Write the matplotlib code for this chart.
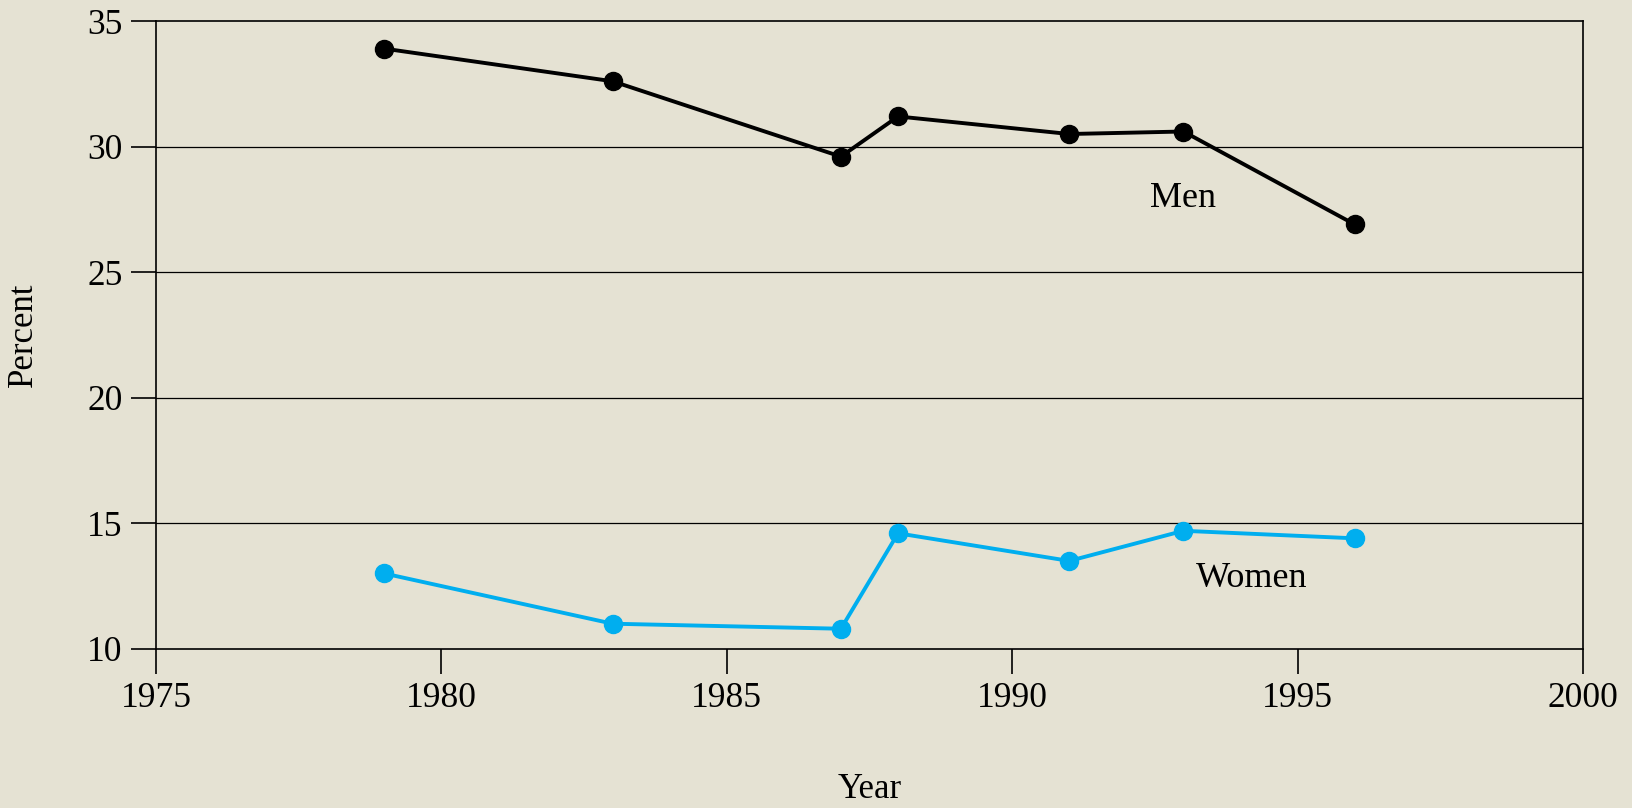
import matplotlib.pyplot as plt

plt.rcParams['font.family'] = ['Liberation Serif', 'DejaVu Serif']

years_men = [1979, 1983, 1987, 1988, 1991, 1993, 1996]
pct_men = [33.9, 32.6, 29.6, 31.2, 30.5, 30.6, 26.9]
years_women = [1979, 1983, 1987, 1988, 1991, 1993, 1996]
pct_women = [13.0, 11.0, 10.8, 14.6, 13.5, 14.7, 14.4]

x_ticks = [1975, 1980, 1985, 1990, 1995, 2000]
y_ticks = [10, 15, 20, 25, 30, 35]

bg = '#e5e2d3'
blue = '#00aeef'

fig = plt.figure(figsize=(16.33, 8.08), dpi=100, facecolor=bg)
ax = fig.add_axes([0.0955, 0.197, 0.9694 - 0.0955, 0.974 - 0.197])
ax.set_facecolor(bg)

# horizontal grid
for y in y_ticks[1:-1]:
    ax.axhline(y, color='black', lw=0.9, zorder=1)

ax.plot(years_men, pct_men, color='black', lw=2.8, marker='o', ms=13, zorder=3)
ax.plot(years_women, pct_women, color=blue, lw=2.8, marker='o', ms=13, zorder=3)

ax.text(1993.0, 27.95, 'Men', fontsize=26, ha='center', va='center')
ax.text(1994.2, 12.8, 'Women', fontsize=26, ha='center', va='center')

ax.set_xlim(1975, 2000)
ax.set_ylim(10, 35)
ax.set_xticks(x_ticks)
ax.set_yticks(y_ticks)
ax.tick_params(axis='both', direction='out', length=18, width=1.2, labelsize=25.5,
               colors='black', pad=6)
for s in ax.spines.values():
    s.set_linewidth(1.2)
    s.set_color('black')

ax.set_xlabel('Year', fontsize=25, labelpad=42)
ax.set_ylabel('Percent', fontsize=25, labelpad=34)

fig.savefig('out.png', dpi=100, facecolor=bg)
